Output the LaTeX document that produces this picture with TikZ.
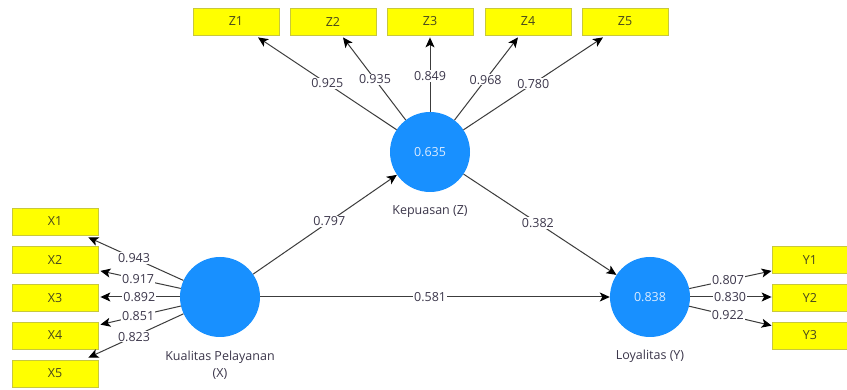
\documentclass[tikz,border=0pt]{standalone}
\usepackage{fontspec}
\setmainfont{Open Sans}
\usetikzlibrary{arrows.meta,calc}
\definecolor{boxfill}{RGB}{255,255,0}
\definecolor{boxline}{RGB}{200,200,60}
\definecolor{boxtext}{RGB}{70,70,30}
\definecolor{lvfill}{RGB}{24,144,255}
\definecolor{lvtext}{RGB}{220,236,255}
\definecolor{edgecol}{RGB}{60,60,60}
\definecolor{labcol}{RGB}{60,55,75}
\begin{document}
\begin{tikzpicture}[x=1pt,y=-1pt,
  every node/.style={font=\fontsize{12.5}{14}\selectfont},
  indbox/.style={draw=boxline,fill=boxfill,line width=0.8pt,minimum width=86pt,minimum height=27pt,inner sep=0pt,text=boxtext},
  latent/.style={circle,fill=lvfill,minimum size=80pt,inner sep=0pt,text=lvtext},
  lvname/.style={text=labcol,align=center},
  conn/.style={draw=edgecol,line width=1pt,-{Stealth[length=10pt,width=9pt,inset=2.5pt,fill=black,color=black]}},
  wlab/.style={fill=white,inner sep=1pt,text=labcol}]
\useasboundingbox[fill=white] (0,0) rectangle (847,390);
% latent variables
\node[latent] (cx) at (220,297) {};
\node[latent] (cz) at (430,152) {0.635};
\node[latent] (cy) at (650,297) {0.838};
\node[lvname] (nx) at (220,365) {Kualitas Pelayanan\\[3pt](X)};
\node[lvname] (nz) at (430,212) {Kepuasan (Z)};
\node[lvname] (ny) at (650,356) {Loyalitas (Y)};
% indicator boxes X
\node[indbox] (x1) at (55,221.5) {X1};
\node[indbox] (x2) at (55,260) {X2};
\node[indbox] (x3) at (55,298) {X3};
\node[indbox] (x4) at (55,335.5) {X4};
\node[indbox] (x5) at (55,373.5) {X5};
% indicator boxes Z
\node[indbox] (z1) at (236,21.5) {Z1};
\node[indbox] (z2) at (333,21.5) {Z2};
\node[indbox] (z3) at (430,21.5) {Z3};
\node[indbox] (z4) at (528,21.5) {Z4};
\node[indbox] (z5) at (625,21.5) {Z5};
% indicator boxes Y
\node[indbox,minimum width=76pt] (y1) at (810,260) {Y1};
\node[indbox,minimum width=76pt] (y2) at (810,298) {Y2};
\node[indbox,minimum width=76pt] (y3) at (810,335.5) {Y3};
% outer loadings X
\draw[conn] (cx) -- node[wlab,pos=0.52] {0.943} ($(x1.south east)+(-10,2)$);
\draw[conn] (cx) -- node[wlab,pos=0.53] {0.917} ($(x2.south east)+(2,-3)$);
\draw[conn] (cx) -- node[wlab,pos=0.51] {0.892} ($(x3.east)+(2,-1)$);
\draw[conn] (cx) -- node[wlab,pos=0.53] {0.851} ($(x4.north east)+(2,3)$);
\draw[conn] (cx) -- node[wlab,pos=0.52] {0.823} ($(x5.north east)+(-10,-2)$);
% outer loadings Z
\draw[conn] (cz) -- node[wlab,pos=0.5] {0.925} ($(z1.south)+(22,2)$);
\draw[conn] (cz) -- node[wlab,pos=0.49] {0.935} ($(z2.south)+(10,2)$);
\draw[conn] (cz) -- node[wlab,pos=0.48] {0.849} ($(z3.south)+(0,2)$);
\draw[conn] (cz) -- node[wlab,pos=0.49] {0.968} ($(z4.south)+(-10,2)$);
\draw[conn] (cz) -- node[wlab,pos=0.5] {0.780} ($(z5.south)+(-22,2)$);
% outer loadings Y
\draw[conn] (cy) -- node[wlab,pos=0.47] {0.807} ($(y1.south west)+(0,-3)$);
\draw[conn] (cy) -- node[wlab,pos=0.49] {0.830} ($(y2.west)+(0,-1)$);
\draw[conn] (cy) -- node[wlab,pos=0.47] {0.922} ($(y3.north west)+(0,4)$);
% structural paths
\draw[conn] (cx) -- node[wlab,pos=0.53] {0.797} (cz);
\draw[conn] (cx) -- node[wlab,pos=0.486] {0.581} (cy);
\draw[conn] (cz) -- node[wlab,pos=0.486] {0.382} (cy);
\end{tikzpicture}
\end{document}
